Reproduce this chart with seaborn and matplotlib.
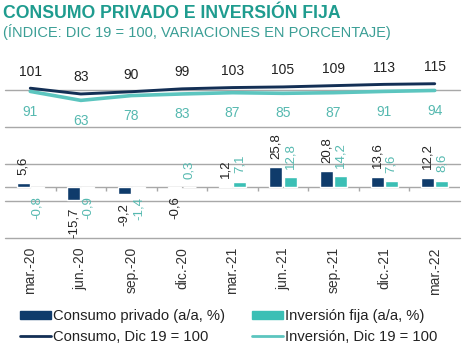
import numpy as np
import pandas as pd
import matplotlib.pyplot as plt
from matplotlib.patches import Patch
from matplotlib.lines import Line2D
import seaborn as sns

# datos
fechas = ["mar.-20", "jun.-20", "sep.-20", "dic.-20", "mar.-21",
          "jun.-21", "sep.-21", "dic.-21", "mar.-22"]
consumo_aa = [5.6, -15.7, -9.2, -0.6, 1.2, 25.8, 20.8, 13.6, 12.2]
inversion_aa = [-0.8, -0.9, -1.4, 0.3, 7.1, 12.8, 14.2, 7.6, 8.6]
consumo_idx = [101, 83, 90, 99, 103, 105, 109, 113, 115]
inversion_idx = [91, 63, 78, 83, 87, 85, 87, 91, 94]

serie_bar = ["Consumo privado (a/a, %)", "Inversión fija (a/a, %)"]
serie_line = ["Consumo, Dic 19 = 100", "Inversión, Dic 19 = 100"]

NAVY = "#0f3b6b"
NAVY_LINE = "#132f55"
TEAL = "#3bbfb5"
TEAL_LINE = "#5cc5bf"
TEAL_TEXT = "#56b9b0"
GRID = "#a8a8a8"
TXT = "#222222"

sns.set_style("white")
plt.rcParams["font.family"] = ["Liberation Sans", "DejaVu Sans"]

bars = pd.DataFrame({
    "fecha": fechas * 2,
    "serie": [serie_bar[0]] * len(fechas) + [serie_bar[1]] * len(fechas),
    "valor": consumo_aa + inversion_aa,
})
idx = pd.DataFrame({"fecha": fechas, "consumo": consumo_idx, "inversion": inversion_idx})

fig = plt.figure(figsize=(4.74, 3.54), dpi=100)
ax = fig.add_axes([5 / 474, 1 - 238 / 354, 455 / 474, 185 / 354])

sns.barplot(data=bars, x="fecha", y="valor", hue="serie", palette=[NAVY, TEAL],
            width=0.56, gap=0.08, saturation=1, errorbar=None, legend=False, ax=ax)

ax.set_ylim(-65, 172)
ax.set_yticks([])
for g in np.linspace(-65, 172, 6)[:5]:
    ax.axhline(g, color=GRID, lw=1, zorder=0.5, clip_on=False)
ax.tick_params(axis="x", length=0, labelrotation=90, labelsize=10, pad=6.5, labelcolor="#333333")
ax.set_xlabel("")
ax.set_ylabel("")
sns.despine(ax=ax, left=True, bottom=True)

# eje de categorías en cero con marcas entre grupos
ax.axhline(0, color=GRID, lw=1, zorder=0.5)
ax.vlines(np.arange(len(fechas) - 1) + 0.5, -5, 0, color=GRID, lw=1, zorder=0.5)

for cont, col in zip(ax.containers, [TXT, TEAL_TEXT]):
    labs = [f"{v:.1f}".replace(".", ",") for v in cont.datavalues]
    ax.bar_label(cont, labels=labs, rotation=90, padding=6, color=col, fontsize=9.5)

# índices en eje secundario
ax2 = ax.twinx()
sns.lineplot(data=idx, x="fecha", y="inversion", color=TEAL_LINE, lw=2.6, ax=ax2)
sns.lineplot(data=idx, x="fecha", y="consumo", color=NAVY_LINE, lw=2.1, ax=ax2)
ax2.set_ylim(-367, 211)
ax2.set_yticks([])
ax2.set_ylabel("")
for s in ax2.spines.values():
    s.set_visible(False)

for i, v in enumerate(consumo_idx):
    ax2.annotate(str(v), (i, v), xytext=(0, 12), textcoords="offset points",
                 ha="center", va="center", fontsize=10, color=TXT)
for i, v in enumerate(inversion_idx):
    ax2.annotate(str(v), (i, v), xytext=(0, -14.5), textcoords="offset points",
                 ha="center", va="center", fontsize=10, color=TEAL_TEXT)

ax.set_xlim(-0.5, len(fechas) - 0.5)

fig.text(0.006, 1 - 18.5 / 354, "CONSUMO PRIVADO E INVERSIÓN FIJA", fontsize=12.7,
         fontweight="bold", color="#1f9c8f", va="baseline")
fig.text(0.006, 1 - 37 / 354, "(ÍNDICE: DIC 19 = 100, VARIACIONES EN PORCENTAJE)",
         fontsize=10.5, color="#3a9e95", va="baseline")

handles = [Patch(color=NAVY), Line2D([], [], color=NAVY_LINE, lw=2),
           Patch(color=TEAL), Line2D([], [], color=TEAL_LINE, lw=2)]
labels = [serie_bar[0], serie_line[0], serie_bar[1], serie_line[1]]
fig.legend(handles, labels, ncol=2, loc="upper left", bbox_to_anchor=(20 / 474, 1 - 309 / 354),
           frameon=False, fontsize=10.6, handlelength=2.1, handleheight=0.5,
           handletextpad=0.15, columnspacing=1.8, labelspacing=0.45,
           borderpad=0, borderaxespad=0, labelcolor=TXT)

fig.savefig("out.png", dpi=100)
